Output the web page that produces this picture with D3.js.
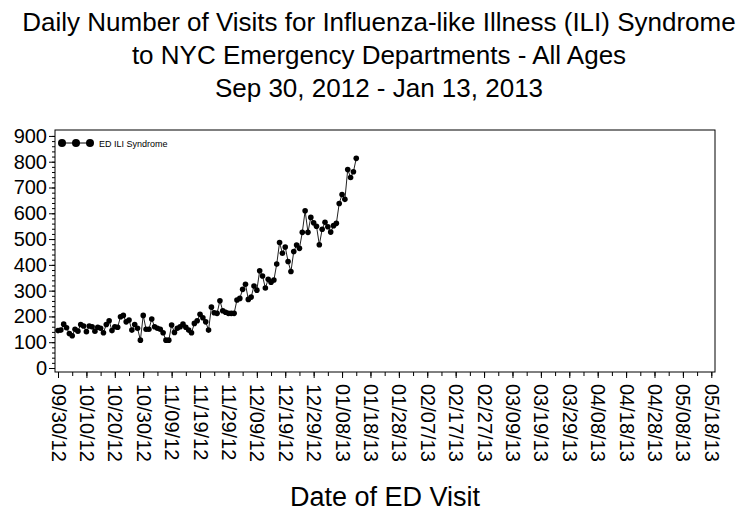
<!DOCTYPE html>
<html>
<head>
<meta charset="utf-8">
<script src="https://cdn.jsdelivr.net/npm/d3@7"></script>
<style>
    body { margin: 0; background: #fff; }
    text { font-family: Arial, "Liberation Sans", sans-serif; fill: #000; }
</style>
</head>
<body>
<div id="chartContainer"></div>
<script>
//chart text
var titleLines = ["Daily Number of Visits for Influenza-like Illness (ILI) Syndrome",
                  "to NYC Emergency Departments - All Ages",
                  "Sep 30, 2012 - Jan 13, 2013"];
var xTitle = "Date of ED Visit";
var seriesName = "ED ILI Syndrome";

//first day of the series, one value per day
var startDate = "2012-09-30";
var visits = [145, 147, 170, 156, 134, 125, 150, 143, 169, 163,
              141, 163, 160, 143, 158, 154, 137, 169, 183, 145,
              160, 158, 199, 204, 179, 186, 147, 169, 154, 108,
              204, 150, 150, 190, 160, 154, 150, 137, 108, 108,
              167, 138, 154, 160, 170, 158, 147, 137, 173, 183,
              208, 195, 179, 147, 236, 214, 212, 261, 222, 216,
              212, 212, 212, 264, 270, 305, 325, 266, 275, 318,
              302, 377, 357, 310, 344, 333, 341, 403, 487, 445,
              469, 413, 374, 452, 477, 464, 526, 610, 526, 584,
              563, 550, 478, 538, 565, 548, 527, 552, 561, 638,
              673, 654, 770, 739, 761, 813];

//axis ticks
var yTicks = [0, 100, 200, 300, 400, 500, 600, 700, 800, 900];
var xTickLabels = ["09/30/12", "10/10/12", "10/20/12", "10/30/12", "11/09/12", "11/19/12",
                   "11/29/12", "12/09/12", "12/19/12", "12/29/12", "01/08/13", "01/18/13",
                   "01/28/13", "02/07/13", "02/17/13", "02/27/13", "03/09/13", "03/19/13",
                   "03/29/13", "04/08/13", "04/18/13", "04/28/13", "05/08/13", "05/18/13"];

window.onload = drawChart;

function drawChart(){
    var width = 756,
        height = 517;

    var svg = d3.select("#chartContainer")
        .append("svg")
        .attr("width", width)
        .attr("height", height);

    //plot frame
    var frame = {left: 55, right: 715, top: 130, bottom: 372};

    var parseDay = d3.utcParse("%Y-%m-%d"),
        parseTick = d3.utcParse("%m/%d/%y"),
        day0 = parseDay(startDate),
        dayMs = 86400000;

    var data = visits.map(function(v, i){
        return {date: new Date(day0.getTime() + i * dayMs), value: v};
    });

    var tickDates = xTickLabels.map(parseTick);

    var x = d3.scaleUtc()
        .domain([new Date(day0.getTime() - 1.06 * dayMs),
                 new Date(day0.getTime() + 231.3 * dayMs)])
        .range([frame.left, frame.right]);

    var y = d3.scaleLinear()
        .domain([-15.5, 923])
        .range([frame.bottom, frame.top]);

    //titles
    svg.selectAll(".title")
        .data(titleLines)
        .enter()
        .append("text")
        .attr("class", "title")
        .attr("x", 379)
        .attr("y", function(d, i){ return 31 + i * 33; })
        .attr("text-anchor", "middle")
        .style("font-size", "26px")
        .text(function(d){ return d; });

    //y axis with major and minor ticks
    svg.append("g")
        .attr("transform", "translate(" + frame.left + ",0)")
        .call(d3.axisLeft(y).tickValues(d3.range(0, 901, 20)).tickSize(3).tickFormat(""));

    var yAxis = svg.append("g")
        .attr("class", "yaxis")
        .attr("transform", "translate(" + frame.left + ",0)")
        .call(d3.axisLeft(y).tickValues(yTicks).tickSize(6).tickPadding(2));
    yAxis.selectAll("text").style("font-size", "20px");

    //x axis, minor ticks every 5 days
    var minorDates = d3.range(0, 231, 5).map(function(k){
        return new Date(day0.getTime() + k * dayMs);
    });
    svg.append("g")
        .attr("transform", "translate(0," + frame.bottom + ")")
        .call(d3.axisBottom(x).tickValues(minorDates).tickSize(4).tickFormat(""));

    var xAxis = svg.append("g")
        .attr("class", "xaxis")
        .attr("transform", "translate(0," + frame.bottom + ")")
        .call(d3.axisBottom(x).tickValues(tickDates).tickSize(6)
            .tickFormat(function(d, i){ return xTickLabels[i]; }));
    xAxis.selectAll("text")
        .style("font-size", "20px")
        .attr("text-anchor", "start")
        .attr("y", 0)
        .attr("dy", "0.35em")
        .attr("transform", "translate(0,12) rotate(90)");

    svg.selectAll(".domain").remove();
    svg.selectAll(".tick line").attr("stroke", "#000");

    //frame box
    svg.append("rect")
        .attr("x", frame.left)
        .attr("y", frame.top)
        .attr("width", frame.right - frame.left)
        .attr("height", frame.bottom - frame.top)
        .attr("fill", "none")
        .attr("stroke", "#000")
        .attr("stroke-width", 1);

    //series line and markers
    var line = d3.line()
        .x(function(d){ return x(d.date); })
        .y(function(d){ return y(d.value); });

    svg.append("path")
        .datum(data)
        .attr("d", line)
        .attr("fill", "none")
        .attr("stroke", "#222")
        .attr("stroke-width", 1);

    svg.selectAll(".pt")
        .data(data)
        .enter()
        .append("circle")
        .attr("class", "pt")
        .attr("cx", function(d){ return x(d.date); })
        .attr("cy", function(d){ return y(d.value); })
        .attr("r", 2.8)
        .attr("fill", "#000");

    //legend
    var legend = svg.append("g")
        .attr("transform", "translate(" + (frame.left + 7) + "," + (frame.top + 13) + ")");
    legend.append("line")
        .attr("x1", 0).attr("x2", 28)
        .attr("stroke", "#000");
    legend.selectAll("circle")
        .data([0, 14, 28])
        .enter()
        .append("circle")
        .attr("cx", function(d){ return d; })
        .attr("r", 4)
        .attr("fill", "#000");
    legend.append("text")
        .attr("x", 37)
        .attr("y", 3.5)
        .style("font-size", "9px")
        .text(seriesName);

    //x axis title
    svg.append("text")
        .attr("x", 385)
        .attr("y", 506)
        .attr("text-anchor", "middle")
        .style("font-size", "27px")
        .text(xTitle);
};
</script>
</body>
</html>
